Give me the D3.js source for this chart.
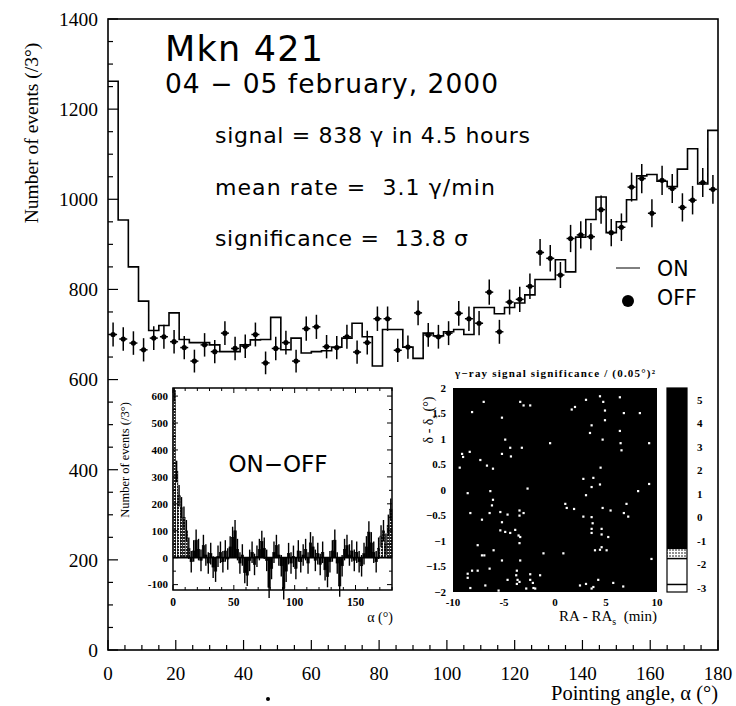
<!DOCTYPE html>
<html lang="en">
<head>
  <meta charset="UTF-8" />
  <title>Mkn 421 pointing angle distribution</title>
  <script src="https://cdn.jsdelivr.net/npm/d3@7"></script>
  <style>
    body { margin: 0; background: #fff; }
    svg { display: block; }
    .serif { font-family: "Liberation Serif", "DejaVu Serif", serif; }
    .sans { font-family: "DejaVu Sans", "Liberation Sans", sans-serif; }
  </style>
</head>
<body>
<svg width="736" height="706"></svg>
<script>
  // ON histogram, 3 degree bins from 0 to 180
  const onCounts = [
    1262, 954, 850, 774, 709, 720, 748, 689, 682, 682,
    677, 662, 662, 677, 688, 689, 738, 666, 692, 659,
    662, 664, 672, 692, 725, 695, 630, 711, 711, 672,
    647, 703, 697, 706, 711, 700, 760, 760, 746, 760,
    770, 788, 822, 822, 866, 839, 916, 955, 1005, 926,
    950, 999, 1052, 1055, 1040, 1028, 1067, 1112, 1034, 1153
  ];
  // OFF points, same bins
  const offCounts = [
    700, 690, 681, 666, 692, 695, 684, 671, 641, 677,
    662, 703, 669, 674, 700, 637, 669, 682, 641, 713,
    717, 673, 671, 695, 661, 682, 735, 735, 665, 672,
    748, 699, 695, 703, 747, 735, 725, 794, 706, 772,
    778, 807, 882, 869, 832, 913, 921, 917, 977, 926,
    938, 1027, 1046, 969, 1042, 1024, 982, 998, 1037, 1022
  ];
  const binWidth = 3;

  // inset: ON-OFF, 2 degree bins
  const diffCounts = [
    620, 320, 230, 185, 150, 100, 35, -15, 25, 65,
    30, -10, 45, 10, -20, 15, -35, -50, 5, 20,
    -15, 25, -5, 40, 75, 100, 30, -20, 10, -55,
    -65, -10, 20, -25, 5, 30, 60, 35, -10, -110,
    -40, 20, 45, 10, -30, -115, -50, 15, -20, 5,
    -40, 25, -15, 10, 30, -20, 55, 40, -10, 15,
    -25, 20, -45, -70, -15, 25, 65, -20, -105, -30,
    30, 45, 10, 25, -10, 20, -15, -30, 15, 40,
    95, 55, 20, -15, 35, 80, 100, 50, 120, 180
  ];
  const diffBin = 2;
  const diffError = 40;
  const diffShaded = [0, 1, 2, 3, 4, 5, 6, 84, 85, 86, 87, 88, 89];

  // inset: significance map, bright pixels (RA min, dec deg)
  const skyRa = [
    -7.0, -3.42, -3.09, -2.44, -8.14, -5.21, 3.03, 4.40, 4.72, 6.35,
    1.63, 1.95, 4.89, 6.74, 8.31, 4.89, 3.58, 3.42, 6.35, -4.89,
    -0.49, 4.66, -4.40, -3.26, 6.42, 9.22, -8.37, -9.12, -5.21, -7.33,
    -9.02, -9.35, -6.68, -6.09, -4.33, 4.46, 6.51, 2.77, 3.75, 4.40,
    3.58, -2.70, -8.57, -6.35, 3.03, 8.14, 9.22, -6.09, -6.19, 1.0,
    1.14, 1.86, 4.66, 5.44, 7.0, -8.31, -6.42, -5.37, -4.66, -3.49,
    -3.09, -7.17, -5.21, -3.49, 2.77, 3.58, 3.68, 6.74, 7.17, -5.37,
    -4.89, -4.40, -3.91, -3.58, -3.42, 3.58, 3.58, 4.56, 4.56, 5.21,
    -7.59, -6.03, -7.17, -6.94, -3.49, -1.14, 0.81, 3.91, 4.40, 5.05,
    4.56, 9.45, -5.21, -3.42, -6.42, -8.14, -7.59, -8.57, -8.57, -3.75,
    -4.66, -3.81, -3.68, -3.49, -3.75, -2.44, -2.18, -2.12, -2.83, -1.95,
    -8.31, -6.84, -5.54, -2.44, -1.47, 2.44, 3.03, 3.75, 4.23, 3.58,
    5.70, 6.68
  ];
  const skyDec = [
    1.73, 1.73, 1.66, 1.66, 1.53, 1.42, 1.77, 1.84, 1.73, 1.82,
    1.58, 1.63, 1.56, 1.51, 1.51, 1.37, 1.27, 1.12, 1.16, 0.99,
    0.92, 0.99, 0.83, 0.83, 0.92, 0.92, 0.75, 0.71, 0.71, 0.59,
    0.65, 0.44, 0.48, 0.42, 0.66, 0.44, 0.78, 0.22, 0.24, 0.11,
    0.06, 0.03, -0.06, -0.02, -0.10, -0.02, 0.12, -0.19, -0.30, -0.27,
    -0.35, -0.37, -0.35, -0.40, -0.27, -0.45, -0.45, -0.43, -0.48, -0.40,
    -0.45, -0.58, -0.63, -0.50, -0.52, -0.53, -0.65, -0.45, -0.52, -0.79,
    -0.82, -0.84, -0.78, -0.89, -0.92, -0.76, -0.84, -0.76, -0.87, -0.92,
    -1.08, -1.18, -1.28, -1.28, -1.04, -1.24, -1.24, -1.18, -1.17, -1.18,
    -1.12, -1.35, -1.38, -1.38, -1.54, -1.58, -1.58, -1.64, -1.72, -1.58,
    -1.76, -1.67, -1.76, -1.80, -1.84, -1.76, -1.82, -1.92, -1.93, -1.93,
    -1.92, -1.87, -1.97, -1.65, -1.67, -1.87, -1.84, -1.90, -1.76, -1.93,
    -1.82, -1.89
  ];
  const sigTicks = [5, 4, 3, 2, 1, 0, -1, -2, -3];

  // text, target width in px
  const statLines = [
    ["signal = 838 \u03b3 in 4.5 hours", 315],
    ["mean rate =\u00a0\u00a03.1 \u03b3/min", 280],
    ["significance =\u00a0\u00a013.8 \u03c3", 253]
  ];

  const svg = d3.select("svg");
  svg.append("rect").attr("width", 736).attr("height", 706).attr("fill", "#fff");

  // dotted fill for the shaded bins
  const defs = svg.append("defs");
  const pat = defs.append("pattern").attr("id", "dots")
    .attr("width", 3).attr("height", 3).attr("patternUnits", "userSpaceOnUse");
  pat.append("rect").attr("width", 3).attr("height", 3).attr("fill", "#fff");
  pat.append("rect").attr("width", 2).attr("height", 2).attr("fill", "#222");

  // ---------- main plot ----------
  const x = d3.scaleLinear().domain([0, 180]).range([108, 718]);
  const y = d3.scaleLinear().domain([0, 1400]).range([650, 19]);

  const main = svg.append("g");

  // minor + major ticks pointing inwards
  main.append("g").selectAll("line")
    .data(d3.range(0, 1401, 50))
    .join("line")
    .attr("x1", x(0)).attr("x2", d => x(0) + (d % 200 === 0 ? 10 : 5))
    .attr("y1", d => y(d)).attr("y2", d => y(d))
    .attr("stroke", "#000").attr("stroke-width", 1.2);

  main.append("g").selectAll("line")
    .data(d3.range(0, 181, 5))
    .join("line")
    .attr("x1", d => x(d)).attr("x2", d => x(d))
    .attr("y1", y(0)).attr("y2", d => y(0) - (d % 20 === 0 ? 10 : 5))
    .attr("stroke", "#000").attr("stroke-width", 1.2);

  main.append("g").selectAll("text")
    .data(d3.range(0, 1401, 200))
    .join("text")
    .attr("class", "serif")
    .attr("x", 98).attr("y", d => y(d)).attr("dy", "0.35em")
    .attr("text-anchor", "end").attr("font-size", 19.5)
    .text(d => d);

  main.append("g").selectAll("text")
    .data(d3.range(0, 181, 20))
    .join("text")
    .attr("class", "serif")
    .attr("x", d => x(d)).attr("y", y(0) + 30)
    .attr("text-anchor", "middle").attr("font-size", 19)
    .text(d => d);

  main.append("text").attr("class", "serif")
    .attr("transform", `translate(38,${133}) rotate(-90)`)
    .attr("text-anchor", "middle").attr("font-size", 19.5)
    .text("Number of events (/3\u00b0)");

  main.append("text").attr("class", "serif")
    .attr("x", 718).attr("y", 700).attr("text-anchor", "end").attr("font-size", 20.5)
    .text("Pointing angle, \u03b1 (\u00b0)");
  main.append("circle").attr("cx", 268).attr("cy", 699).attr("r", 2).attr("fill", "#000");

  // ON step histogram
  const stepPts = onCounts.map((v, i) => [i * binWidth, v]);
  stepPts.push([180, onCounts[onCounts.length - 1]]);
  main.append("path")
    .attr("d", d3.line().x(d => x(d[0])).y(d => y(d[1])).curve(d3.curveStepAfter)(stepPts))
    .attr("fill", "none").attr("stroke", "#000").attr("stroke-width", 1.6);

  // OFF points with errors
  const off = main.append("g").selectAll("g")
    .data(offCounts)
    .join("g")
    .attr("transform", (d, i) => `translate(${x(i * binWidth + binWidth / 2)},0)`);
  off.append("line")
    .attr("y1", d => y(d - Math.sqrt(d))).attr("y2", d => y(d + Math.sqrt(d)))
    .attr("stroke", "#000").attr("stroke-width", 1.5);
  off.append("line")
    .attr("x1", -4).attr("x2", 4).attr("y1", d => y(d)).attr("y2", d => y(d))
    .attr("stroke", "#000").attr("stroke-width", 1.5);
  off.append("circle").attr("cy", d => y(d)).attr("r", 2.6).attr("fill", "#000");

  // frame
  main.append("rect")
    .attr("x", x(0)).attr("y", y(1400))
    .attr("width", x(180) - x(0)).attr("height", y(0) - y(1400))
    .attr("fill", "none").attr("stroke", "#000").attr("stroke-width", 1.6);

  // titles and stats
  main.append("text").attr("class", "sans")
    .attr("x", 165).attr("y", 61).attr("font-size", 35)
    .attr("textLength", 158).attr("lengthAdjust", "spacing")
    .text("Mkn 421");
  main.append("text").attr("class", "sans")
    .attr("x", 165).attr("y", 93).attr("font-size", 26.5)
    .attr("textLength", 333).attr("lengthAdjust", "spacing")
    .text("04 \u2212 05 february, 2000");
  main.append("g").selectAll("text")
    .data(statLines)
    .join("text")
    .attr("class", "sans")
    .attr("x", 215).attr("y", (d, i) => 143 + i * 51.5)
    .attr("font-size", 22)
    .attr("textLength", d => d[1]).attr("lengthAdjust", "spacing")
    .text(d => d[0]);

  // legend
  main.append("line").attr("x1", 616).attr("x2", 640).attr("y1", 268).attr("y2", 268)
    .attr("stroke", "#000").attr("stroke-width", 1);
  main.append("text").attr("class", "sans")
    .attr("x", 657).attr("y", 276).attr("font-size", 20.5).text("ON");
  main.append("circle").attr("cx", 628).attr("cy", 301).attr("r", 6).attr("fill", "#000");
  main.append("text").attr("class", "sans")
    .attr("x", 657).attr("y", 305).attr("font-size", 20.5).text("OFF");

  // ---------- inset 1: ON-OFF ----------
  const ix = d3.scaleLinear().domain([0, 180]).range([173, 392]);
  const iy = d3.scaleLinear().domain([-120, 630]).range([590, 388]);
  const ins = svg.append("g");

  ins.append("rect")
    .attr("x", ix(0)).attr("y", iy(630))
    .attr("width", ix(180) - ix(0)).attr("height", iy(-120) - iy(630))
    .attr("fill", "#fff");

  ins.append("g").selectAll("rect")
    .data(diffCounts)
    .join("rect")
    .attr("x", (d, i) => ix(i * diffBin))
    .attr("width", ix(diffBin) - ix(0))
    .attr("y", d => iy(Math.max(0, d)))
    .attr("height", d => Math.abs(iy(d) - iy(0)))
    .attr("fill", (d, i) => diffShaded.includes(i) ? "url(#dots)" : "#000")
    .attr("stroke", "#000").attr("stroke-width", 0.6);

  ins.append("g").selectAll("line")
    .data(diffCounts)
    .join("line")
    .attr("x1", (d, i) => ix(i * diffBin + diffBin / 2))
    .attr("x2", (d, i) => ix(i * diffBin + diffBin / 2))
    .attr("y1", d => iy(d - diffError)).attr("y2", d => iy(Math.min(630, d + diffError)))
    .attr("stroke", "#000").attr("stroke-width", 1.4);

  ins.append("line")
    .attr("x1", ix(0)).attr("x2", ix(180)).attr("y1", iy(0)).attr("y2", iy(0))
    .attr("stroke", "#000").attr("stroke-width", 1.8);

  // ticks on all four sides
  const iyTicks = d3.range(-100, 601, 50);
  ins.append("g").selectAll("line")
    .data(iyTicks.flatMap(t => [[ix(0), t, 1], [ix(180), t, -1]]))
    .join("line")
    .attr("x1", d => d[0]).attr("x2", d => d[0] + d[2] * (d[1] % 100 === 0 ? 5 : 3))
    .attr("y1", d => iy(d[1])).attr("y2", d => iy(d[1]))
    .attr("stroke", "#000").attr("stroke-width", 1);
  const ixTicks = d3.range(0, 181, 10);
  ins.append("g").selectAll("line")
    .data(ixTicks.flatMap(t => [[iy(-120), t, -1], [iy(630), t, 1]]))
    .join("line")
    .attr("x1", d => ix(d[1])).attr("x2", d => ix(d[1]))
    .attr("y1", d => d[0]).attr("y2", d => d[0] + d[2] * (d[1] % 50 === 0 ? 5 : 3))
    .attr("stroke", "#000").attr("stroke-width", 1);

  ins.append("rect")
    .attr("x", ix(0)).attr("y", iy(630))
    .attr("width", ix(180) - ix(0)).attr("height", iy(-120) - iy(630))
    .attr("fill", "none").attr("stroke", "#000").attr("stroke-width", 1.5);

  ins.append("g").selectAll("text")
    .data(d3.range(-100, 601, 100))
    .join("text")
    .attr("class", "serif")
    .attr("x", 168).attr("y", d => iy(d)).attr("dy", "0.35em")
    .attr("text-anchor", "end").attr("font-size", 11).attr("font-weight", "bold")
    .text(d => d);
  ins.append("g").selectAll("text")
    .data(d3.range(0, 151, 50))
    .join("text")
    .attr("class", "serif")
    .attr("x", d => ix(d)).attr("y", 606)
    .attr("text-anchor", "middle").attr("font-size", 11.5).attr("font-weight", "bold")
    .text(d => d);
  ins.append("text").attr("class", "serif")
    .attr("x", 393).attr("y", 622).attr("text-anchor", "end").attr("font-size", 14)
    .text("\u03b1 (\u00b0)");
  ins.append("text").attr("class", "serif")
    .attr("transform", "translate(129,460) rotate(-90)")
    .attr("text-anchor", "middle").attr("font-size", 12.5)
    .text("Number of events (/3\u00b0)");
  ins.append("text").attr("class", "sans")
    .attr("x", 278).attr("y", 472).attr("text-anchor", "middle").attr("font-size", 23)
    .text("ON\u2212OFF");

  // ---------- inset 2: significance map ----------
  const sx = d3.scaleLinear().domain([-10, 10]).range([453, 657]);
  const sy = d3.scaleLinear().domain([-2, 2]).range([592, 388]);
  const sc = d3.scaleLinear().domain([-3.17, 5.5]).range([592, 388]);
  const sky = svg.append("g");

  sky.append("rect")
    .attr("x", sx(-10)).attr("y", sy(2))
    .attr("width", sx(10) - sx(-10)).attr("height", sy(-2) - sy(2))
    .attr("fill", "#000");
  sky.append("g").selectAll("rect")
    .data(skyRa)
    .join("rect")
    .attr("x", (d, i) => sx(d) - 1).attr("y", (d, i) => sy(skyDec[i]) - 1)
    .attr("width", 2.2).attr("height", 2.2)
    .attr("fill", "#fff");

  sky.append("text").attr("class", "serif")
    .attr("x", 555).attr("y", 377).attr("text-anchor", "middle")
    .attr("font-size", 11).attr("font-weight", "bold")
    .attr("textLength", 200).attr("lengthAdjust", "spacing")
    .text("\u03b3\u2212ray signal significance / (0.05\u00b0)\u00b2");

  sky.append("g").selectAll("text")
    .data(d3.range(-2, 2.01, 0.5))
    .join("text")
    .attr("class", "serif")
    .attr("x", 446).attr("y", d => sy(d)).attr("dy", "0.35em")
    .attr("text-anchor", "end").attr("font-size", 11).attr("font-weight", "bold")
    .text(d => d3.format("~g")(d));
  sky.append("g").selectAll("text")
    .data(d3.range(-10, 10.01, 5))
    .join("text")
    .attr("class", "serif")
    .attr("x", d => sx(d)).attr("y", 606)
    .attr("text-anchor", "middle").attr("font-size", 11).attr("font-weight", "bold")
    .text(d => d);

  const raTitle = sky.append("text").attr("class", "serif")
    .attr("x", 657).attr("y", 621).attr("text-anchor", "end").attr("font-size", 15);
  raTitle.append("tspan").text("RA - RA");
  raTitle.append("tspan").attr("font-size", 10).attr("dy", 4).text("s");
  raTitle.append("tspan").attr("dy", -4).text("\u00a0\u00a0(min)");

  const decTitle = sky.append("text").attr("class", "serif")
    .attr("transform", "translate(433,420) rotate(-90)")
    .attr("text-anchor", "middle").attr("font-size", 14);
  decTitle.append("tspan").text("\u03b4 - \u03b4");
  decTitle.append("tspan").attr("font-size", 9).attr("dy", 4).text("s");
  decTitle.append("tspan").attr("dy", -4).text(" (\u00b0)");

  // colour scale
  const cbX = 667, cbW = 20;
  sky.append("rect").attr("x", cbX).attr("y", sc(5.5))
    .attr("width", cbW).attr("height", sc(-1.35) - sc(5.5)).attr("fill", "#000");
  sky.append("rect").attr("x", cbX).attr("y", sc(-1.35))
    .attr("width", cbW).attr("height", sc(-1.75) - sc(-1.35)).attr("fill", "url(#dots)").attr("opacity", 0.5);
  sky.append("g").selectAll("line")
    .data([-1.75, -2.85])
    .join("line")
    .attr("x1", cbX).attr("x2", cbX + cbW)
    .attr("y1", d => sc(d)).attr("y2", d => sc(d))
    .attr("stroke", "#000").attr("stroke-width", 1.5);
  sky.append("rect").attr("x", cbX).attr("y", sc(5.5))
    .attr("width", cbW).attr("height", sc(-3.17) - sc(5.5))
    .attr("fill", "none").attr("stroke", "#000").attr("stroke-width", 1.2);
  sky.append("g").selectAll("text")
    .data(sigTicks)
    .join("text")
    .attr("class", "serif")
    .attr("x", 697).attr("y", d => sc(d)).attr("dy", "0.35em")
    .attr("font-size", 11).attr("font-weight", "bold")
    .text(d => d);
</script>
</body>
</html>
